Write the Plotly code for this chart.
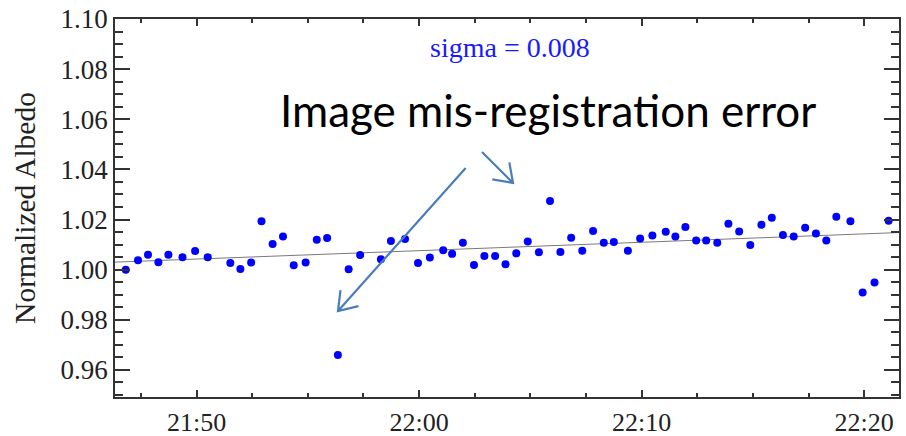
import math
import plotly.graph_objects as go

# ---------------- data ----------------
DATE = "2000-01-01"
times = [
    "21:46:49", "21:47:22", "21:47:49", "21:48:17", "21:48:44", "21:49:22", "21:49:56",
    "21:50:30", "21:51:31", "21:51:58", "21:52:27", "21:52:55", "21:53:25", "21:53:53",
    "21:54:22", "21:54:54", "21:55:24", "21:55:52", "21:56:21", "21:56:50", "21:57:21",
    "21:58:17", "21:58:44", "21:59:22", "21:59:57", "22:00:29", "22:01:05", "22:01:29",
    "22:01:58", "22:02:28", "22:02:56", "22:03:25", "22:03:53", "22:04:22", "22:04:53",
    "22:05:23", "22:05:53", "22:06:21", "22:06:50", "22:07:20", "22:07:49", "22:08:18",
    "22:08:45", "22:09:23", "22:09:56", "22:10:29", "22:11:05", "22:11:31", "22:11:58",
    "22:12:27", "22:12:54", "22:13:24", "22:13:54", "22:14:23", "22:14:53", "22:15:23",
    "22:15:51", "22:16:21", "22:16:50", "22:17:21", "22:17:50", "22:18:18", "22:18:45",
    "22:19:23", "22:19:56", "22:20:28", "22:21:06",
]
albedo = [
    1.0000, 1.0038, 1.0059, 1.0030, 1.0059, 1.0050, 1.0074,
    1.0050, 1.0027, 1.0003, 1.0029, 1.0193, 1.0102, 1.0132,
    1.0018, 1.0029, 1.0119, 1.0126, 0.9660, 1.0002, 1.0058,
    1.0042, 1.0114, 1.0122, 1.0027, 1.0049, 1.0077, 1.0063,
    1.0107, 1.0019, 1.0055, 1.0055, 1.0022, 1.0065, 1.0112,
    1.0069, 1.0274, 1.0070, 1.0127, 1.0075, 1.0154, 1.0107,
    1.0110, 1.0075, 1.0124, 1.0136, 1.0151, 1.0132, 1.0170,
    1.0116, 1.0116, 1.0107, 1.0183, 1.0152, 1.0098, 1.0179,
    1.0207, 1.0138, 1.0132, 1.0167, 1.0144, 1.0116, 1.0211,
    1.0193, 0.9909, 0.9949, 1.0195,
]
trend_times = ["21:46:20", "22:21:34"]
trend_values = [1.0030, 1.0148]

x_range = ["21:46:20", "22:21:34"]
y_range = [0.9492, 1.10]

sigma_label = "sigma = 0.008"
note_label = "Image mis-registration error"

# ---------------- layout geometry ----------------
W, H = 906, 436
ML, MR, MT, MB = 115, 7, 19, 39
PW, PH = W - ML - MR, H - MT - MB


def to_paper(px, py):
    return (px - ML) / PW, (H - MB - py) / PH


def ts(t):
    return f"{DATE} {t}"


fig = go.Figure()

fig.add_trace(go.Scatter(
    x=[ts(t) for t in trend_times], y=trend_values, mode="lines",
    line=dict(color="#7a7a7a", width=1), showlegend=False, hoverinfo="skip",
))
fig.add_trace(go.Scatter(
    x=[ts(t) for t in times], y=albedo, mode="markers",
    marker=dict(color="#0000ff", size=8), showlegend=False,
))

axis_color = "#333333"
serif = "Liberation Serif, Times New Roman, serif"

fig.update_xaxes(
    type="date", range=[ts(x_range[0]), ts(x_range[1])],
    tick0=ts("21:50:00"), dtick=600000, tickformat="%H:%M",
    ticks="inside", ticklen=7, tickwidth=1.5, tickcolor=axis_color,
    minor=dict(dtick=150000, ticks="inside", ticklen=4, tickwidth=1.5, tickcolor=axis_color),
    showline=True, linecolor=axis_color, linewidth=1.8, mirror="allticks",
    showgrid=False, zeroline=False, ticklabelstandoff=1, automargin=False,
    tickfont=dict(family=serif, size=26, color="#222222"),
)
fig.update_yaxes(
    range=y_range, tick0=1.0, dtick=0.02, tickformat=".2f",
    ticks="inside", ticklen=15, tickwidth=1.5, tickcolor=axis_color,
    minor=dict(dtick=0.005, ticks="inside", ticklen=8, tickwidth=1.5, tickcolor=axis_color),
    showline=True, linecolor=axis_color, linewidth=1.8, mirror="allticks",
    showgrid=False, zeroline=False, automargin=False,
    tickfont=dict(family=serif, size=27, color="#222222"),
    title=dict(text="Normalized Albedo", font=dict(family=serif, size=29.5, color="#222222"), standoff=16),
)

sx, sy = to_paper(510, 47)
nx, ny = to_paper(548, 110)
fig.add_annotation(x=sx, y=sy, xref="paper", yref="paper", xanchor="center", yanchor="middle",
                   text=sigma_label, showarrow=False,
                   font=dict(family=serif, size=28, color="#1a1aff"))
fig.add_annotation(x=nx, y=ny, xref="paper", yref="paper", xanchor="center", yanchor="middle",
                   text=note_label, showarrow=False,
                   font=dict(family="Lato, Carlito, sans-serif", size=44, color="#000000"))

# arrows (pixel positions converted to paper coordinates)
arrows = [((465.7, 168.0), (338.0, 311.0)), ((482.0, 152.0), (513.0, 183.0))]
arrow_color = "#4a7ebb"
for (x0, y0), (x1, y1) in arrows:
    dx, dy = x0 - x1, y0 - y1
    n = math.hypot(dx, dy)
    ux, uy = dx / n, dy / n
    pts = []
    for ang in (35, -35):
        a = math.radians(ang)
        rx = ux * math.cos(a) - uy * math.sin(a)
        ry = ux * math.sin(a) + uy * math.cos(a)
        pts.append((x1 + 21 * rx, y1 + 21 * ry))
    p0, p1 = to_paper(x0, y0), to_paper(x1, y1)
    a1, a2 = to_paper(*pts[0]), to_paper(*pts[1])
    path = (f"M {p0[0]} {p0[1]} L {p1[0]} {p1[1]} "
            f"M {a1[0]} {a1[1]} L {p1[0]} {p1[1]} L {a2[0]} {a2[1]}")
    fig.add_shape(type="path", path=path, xref="paper", yref="paper",
                  line=dict(color=arrow_color, width=2.2))

fig.update_layout(
    width=W, height=H, margin=dict(l=ML, r=MR, t=MT, b=MB),
    paper_bgcolor="white", plot_bgcolor="white",
)

fig.write_html(
    "out.html",
    config={"displayModeBar": False},
    post_script="document.body.style.margin='0';document.body.style.overflow='hidden';",
)
